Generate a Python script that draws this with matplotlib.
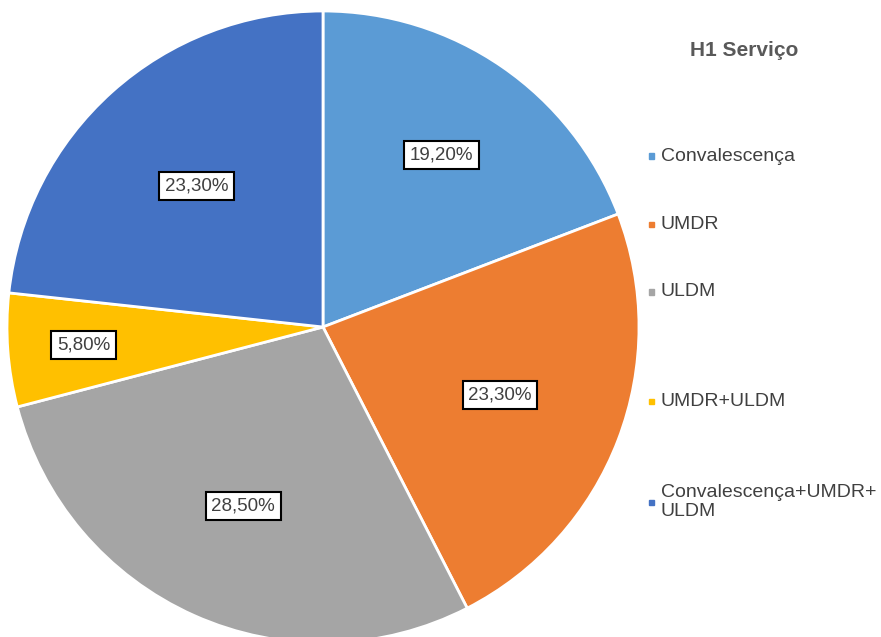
import numpy as np
import matplotlib
matplotlib.use('Agg')
import matplotlib.pyplot as plt

plt.rcParams['font.family'] = ['Liberation Sans', 'DejaVu Sans']

categories = ['Convalescença', 'UMDR', 'ULDM', 'UMDR+ULDM', 'Convalescença+UMDR+\nULDM']
values = [19.2, 23.3, 28.5, 5.8, 23.3]
labels = ['19,20%', '23,30%', '28,50%', '5,80%', '23,30%']
colors = ['#5B9BD5', '#ED7D31', '#A5A5A5', '#FFC000', '#4472C4']

fig = plt.figure(figsize=(8.81, 6.37), dpi=100)
ax = fig.add_axes([7 / 881, -6 / 637, 632 / 881, 632 / 637])

wedges, _ = ax.pie(values, colors=colors, startangle=90, counterclock=False,
                   radius=1, wedgeprops=dict(edgecolor='white', linewidth=2))
ax.set_xlim(-1, 1)
ax.set_ylim(-1, 1)
ax.set_aspect('equal')

# label distances from centre, per slice
dists = [0.66, 0.60, 0.62, 0.76, 0.60]
for w, lab, d in zip(wedges, labels, dists):
    ang = np.deg2rad((w.theta1 + w.theta2) / 2)
    ax.text(d * np.cos(ang), d * np.sin(ang), lab, ha='center', va='center',
            fontsize=13.5, color='#404040',
            bbox=dict(boxstyle='square,pad=0.3', facecolor='white',
                      edgecolor='black', linewidth=1.5))

# legend, drawn by hand to match spacing
fig.text(744 / 881, 1 - 50 / 637, 'H1 Serviço', ha='center', va='center',
         fontsize=15, fontweight='bold', color='#595959')
legend_y = [156, 224, 292, 401, 502]
for cat, col, y in zip(categories, colors, legend_y):
    yy = 1 - y / 637
    fig.patches.append(plt.Rectangle((649 / 881, yy - 2.5 / 637), 5 / 881, 5 / 637,
                                     transform=fig.transFigure, color=col))
    fig.text(661 / 881, yy, cat, ha='left', va='center', fontsize=14,
             color='#404040', linespacing=1.2)

fig.savefig('out.png', dpi=100)
